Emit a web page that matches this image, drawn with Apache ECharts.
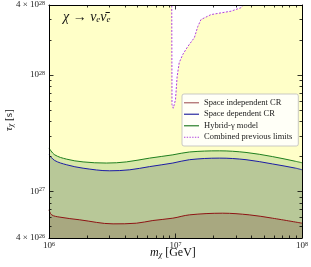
<!DOCTYPE html>
<html><head><meta charset="utf-8">
<script src="https://cdn.jsdelivr.net/npm/echarts@6/dist/echarts.min.js"></script>
<style>html,body{margin:0;padding:0;background:#fff}#c{width:311px;height:267px}</style>
</head><body><div id="c"></div>
<script>
// Space independent CR
const massIndep = [1e6, 1.05e6, 1.22e6, 1.75e6, 3.21e6, 4.91e6, 6.62e6, 9.53e6, 1.29e7, 2.36e7, 3.83e7, 5.83e7, 1e8];
const tauIndep  = [6.98e26, 6.32e26, 6.04e26, 5.73e26, 5.29e26, 5.36e26, 5.65e26, 5.92e26, 6.32e26, 6.53e26, 6.32e26, 5.92e26, 5.36e26];
// Space dependent CR
const massDep = [1e6, 1.11e6, 1.38e6, 1.86e6, 3.02e6, 4.35e6, 6.24e6, 9.53e6, 1.29e7, 2.22e7, 3.61e7, 5.83e7, 8.91e7, 1e8];
const tauDep  = [2.07e27, 1.85e27, 1.70e27, 1.59e27, 1.51e27, 1.54e27, 1.64e27, 1.76e27, 1.88e27, 1.94e27, 1.88e27, 1.73e27, 1.59e27, 1.54e27];
// Hybrid-gamma model
const massHyb = [1e6, 1.11e6, 1.38e6, 1.86e6, 2.84e6, 4.09e6, 6.24e6, 9.53e6, 1.29e7, 2.22e7, 3.61e7, 5.83e7, 8.91e7, 1e8];
const tauHyb  = [2.37e27, 2.07e27, 1.90e27, 1.80e27, 1.76e27, 1.80e27, 1.94e27, 2.07e27, 2.19e27, 2.24e27, 2.17e27, 2.00e27, 1.82e27, 1.77e27];
// Combined previous limits
const massPrev = [9.33e6, 9.38e6, 9.6e6, 1.0e7, 1.03e7, 1.07e7, 1.14e7, 1.25e7, 1.41e7, 1.50e7, 1.59e7, 1.91e7, 2.75e7, 3.29e7, 3.49e7, 3.7e7];
const tauPrev  = [6e28, 5.6e27, 5.2e27, 6.15e27, 9.7e27, 1.28e28, 1.50e28, 1.76e28, 2.10e28, 2.61e28, 3.0e28, 3.31e28, 3.54e28, 3.79e28, 4.04e28, 4.6e28];
// ticks
const xMajor = [1e6, 1e7, 1e8];
const xMinor = [2e6,3e6,4e6,5e6,6e6,7e6,8e6,9e6,2e7,3e7,4e7,5e7,6e7,7e7,8e7,9e7];
const yLabels = [4e26, 1e27, 1e28, 4e28];
const yMajor = [1e27, 1e28];
const yMinor = [5e26,6e26,7e26,8e26,9e26,2e27,3e27,4e27,5e27,6e27,7e27,8e27,9e27,2e28,3e28];

const zip = (a, b) => a.map((v, i) => [v, b[i]]);
const FONT = '"Liberation Serif", "DejaVu Serif", serif';
const X_MIN = 1e6, X_MAX = 1e8, Y_MIN = 4e26, Y_MAX = 4e28;

const yellowData = [[X_MIN, 6e28]].concat(zip(massPrev, tauPrev)).concat([[X_MAX, 6e28]]);

function fmt(v) {
  const e = Math.floor(Math.log10(v) + 1e-9);
  const m = Math.round(v / Math.pow(10, e));
  return (m === 1 ? '' : m + ' × ') + '10{sup|' + e + '}';
}
const labelRich = { sup: { fontSize: 6, fontFamily: FONT, color: '#222', verticalAlign: 'top', padding: [0, 0, 4, 0] } };

function xAx(pos, major, labels) {
  return {
    type: 'log', logBase: 10, min: X_MIN, max: X_MAX, position: pos, z: 10,
    axisLine: { show: major, lineStyle: { color: '#000', width: 1 } },
    axisTick: { show: true, inside: true, length: major ? 4.5 : 2.5, customValues: major ? xMajor : xMinor, lineStyle: { color: '#000', width: 0.8 } },
    axisLabel: labels ? { show: true, customValues: xMajor, formatter: fmt, fontFamily: FONT, fontSize: 9, color: '#222', margin: 3, rich: labelRich } : { show: false },
    splitLine: { show: false }, minorTick: { show: false }
  };
}
function yAx(pos, major, labels) {
  return {
    type: 'log', logBase: 10, min: Y_MIN, max: Y_MAX, position: pos, z: 10,
    axisLine: { show: major, lineStyle: { color: '#000', width: 1 } },
    axisTick: { show: true, inside: true, length: major ? 4.5 : 2.5, customValues: major ? yMajor : yMinor, lineStyle: { color: '#000', width: 0.8 } },
    axisLabel: labels ? { show: true, customValues: yLabels, formatter: fmt, fontFamily: FONT, fontSize: 9, color: '#222', margin: 4, rich: labelRich } : { show: false },
    splitLine: { show: false }, minorTick: { show: false }
  };
}

const DOTS = 'path://M0,0h1.3v1h-1.3z M2.6,0h1.3v1h-1.3z M5.2,0h1.3v1h-1.3z M7.8,0h1.3v1h-1.3z M10.4,0h1.3v1h-1.3z M13,0h1.3v1h-1.3z';

const chart = echarts.init(document.getElementById('c'), null, { renderer: 'canvas' });
chart.setOption({
  animation: false,
  backgroundColor: '#fff',
  grid: { left: 49, right: 8, top: 5, bottom: 29, containLabel: false },
  xAxis: [xAx('bottom', true, true), xAx('bottom', false, false), xAx('top', true, false), xAx('top', false, false)],
  yAxis: [yAx('left', true, true), yAx('left', false, false), yAx('right', true, false), yAx('right', false, false)],
  legend: {
    orient: 'vertical', left: 182, top: 94,
    padding: [4, 6, 4, 2], itemGap: 2, itemWidth: 15, itemHeight: 1.3,
    backgroundColor: 'rgba(255,255,255,0.85)', borderColor: '#bbb', borderWidth: 0.8, borderRadius: 2,
    textStyle: { fontFamily: FONT, fontSize: 8.5, color: '#222', lineHeight: 9.5 },
    data: [
      { name: 'Space independent CR', icon: 'rect', itemStyle: { color: '#b07070' } },
      { name: 'Space dependent CR', icon: 'rect', itemStyle: { color: '#3a3aa8' } },
      { name: 'Hybrid-γ model', icon: 'rect', itemStyle: { color: '#3a8a3a' } },
      { name: 'Combined previous limits', icon: DOTS, itemStyle: { color: '#b040e0' } }
    ]
  },
  series: [
    { name: 'excluded', type: 'line', data: yellowData, symbol: 'none', silent: true, z: 1,
      lineStyle: { width: 0, opacity: 0 }, areaStyle: { color: '#ffffc8', opacity: 1, origin: 'start' } },
    { name: 'Hybrid-γ model', type: 'line', data: zip(massHyb, tauHyb), symbol: 'none', smooth: 0.35, z: 2,
      lineStyle: { color: '#1f7f1f', width: 1 }, itemStyle: { color: '#1f7f1f' }, areaStyle: { color: '#d8e8a8', opacity: 1, origin: 'start' } },
    { name: 'Space dependent CR', type: 'line', data: zip(massDep, tauDep), symbol: 'none', smooth: 0.35, z: 3,
      lineStyle: { color: '#1c1ca4', width: 1 }, itemStyle: { color: '#1c1ca4' }, areaStyle: { color: '#b8c898', opacity: 1, origin: 'start' } },
    { name: 'Space independent CR', type: 'line', data: zip(massIndep, tauIndep), symbol: 'none', smooth: 0.35, z: 4,
      lineStyle: { color: '#8e1414', width: 1 }, itemStyle: { color: '#8e1414' }, areaStyle: { color: '#a8a880', opacity: 1, origin: 'start' } },
    { name: 'Combined previous limits', type: 'line', data: zip(massPrev, tauPrev), symbol: 'none', z: 5,
      lineStyle: { color: '#b040e0', width: 1, type: [2, 1.5] }, itemStyle: { color: '#b040e0' } }
  ],
  graphic: [
    { type: 'text', left: 63, top: 10, z: 20, style: {
      text: '{i|χ} → {i|ν}{sub|e}{i|ν̄}{sub|e}', font: '14px ' + FONT, fill: '#111',
      rich: { i: { fontStyle: 'italic', fontSize: 14, fontFamily: FONT, fill: '#111', verticalAlign: 'bottom' },
              sub: { fontStyle: 'italic', fontSize: 9, fontFamily: FONT, fill: '#111', verticalAlign: 'bottom', padding: [4, 0, 0, 0] } } } },
    { type: 'text', left: 150, top: 247, z: 20, style: {
      text: '{i|m}{sub|χ} [GeV]', font: '12px ' + FONT, fill: '#111',
      rich: { i: { fontStyle: 'italic', fontSize: 12, fontFamily: FONT, fill: '#111', verticalAlign: 'bottom' },
              sub: { fontStyle: 'italic', fontSize: 8, fontFamily: FONT, fill: '#111', verticalAlign: 'bottom', padding: [4, 0, 0, 0] } } } },
    { type: 'text', x: 3, y: 131, rotation: Math.PI / 2, z: 20, style: {
      text: '{i|τ}{sub|χ} [s]', font: '11px ' + FONT, fill: '#111',
      rich: { i: { fontStyle: 'italic', fontSize: 11, fontFamily: FONT, fill: '#111', verticalAlign: 'bottom' },
              sub: { fontStyle: 'italic', fontSize: 7.5, fontFamily: FONT, fill: '#111', verticalAlign: 'bottom', padding: [4, 0, 0, 0] } } } }
  ]
});
</script></body></html>
